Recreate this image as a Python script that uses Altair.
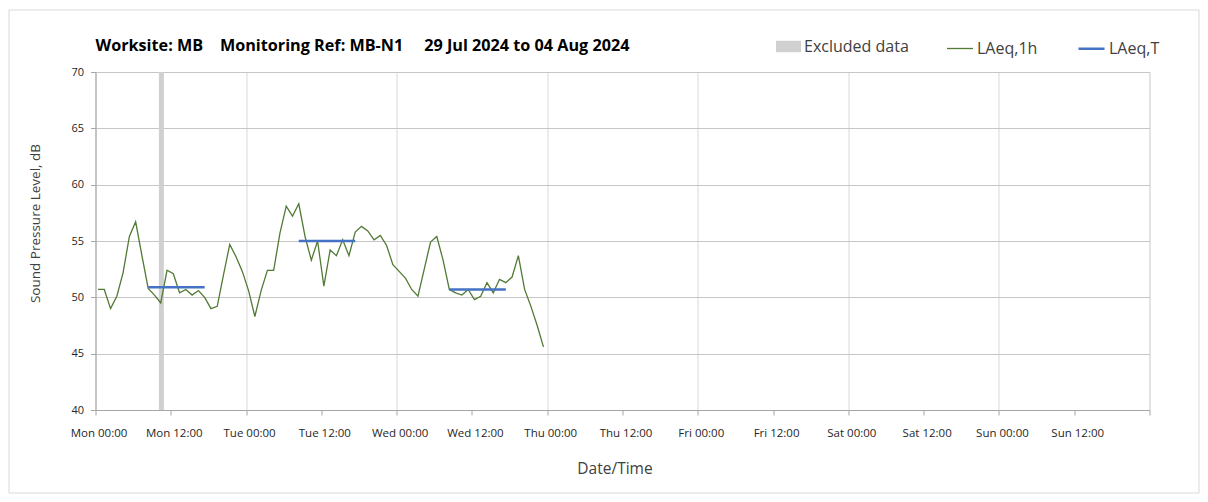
import altair as alt
import pandas as pd

FONT = "Open Sans"

# ---------------- data ----------------
first_reading = "2024-07-29T00:24:00"  # hourly LAeq,1h readings start here
laeq_1h = [
    50.7, 50.7, 49.0, 50.1, 52.2, 55.4, 56.7, 53.7, 50.8, 50.2, 49.5, 52.4,
    52.1, 50.4, 50.7, 50.2, 50.6, 50.0, 49.0, 49.2, 52.0, 54.7, 53.6, 52.3,
    50.6, 48.3, 50.6, 52.4, 52.4, 55.7, 58.1, 57.2, 58.3, 55.4, 53.3, 55.0,
    51.0, 54.2, 53.7, 55.1, 53.7, 55.8, 56.3, 55.9, 55.1, 55.5, 54.6, 52.9,
    52.3, 51.7, 50.7, 50.1, 52.5, 54.9, 55.4, 53.3, 50.7, 50.4, 50.2, 50.7,
    49.8, 50.1, 51.3, 50.4, 51.6, 51.3, 51.8, 53.7, 50.7, 49.2, 47.5, 45.6,
]

period_start = ["2024-07-29T08:24:00", "2024-07-30T08:24:00", "2024-07-31T08:24:00"]
period_end = ["2024-07-29T17:24:00", "2024-07-30T17:24:00", "2024-07-31T17:24:00"]
period_value = [50.9, 55.0, 50.7]

excluded_start = ["2024-07-29T10:06:00"]
excluded_end = ["2024-07-29T10:54:00"]

line_names = ["LAeq,1h", "LAeq,T"]
line_colors = ["#517a34", "#4472c4"]
line_widths = [1.3, 2.5]
excluded_name = "Excluded data"
excluded_color = "#d0d0d0"

y_ticks = [40, 45, 50, 55, 60, 65, 70]
title_text = ["Worksite: MB\u00a0\u00a0\u00a0\u00a0Monitoring Ref: MB-N1"
              "\u00a0\u00a0\u00a0\u00a0\u00a029 Jul 2024 to 04 Aug 2024"]

# ---------------- tables ----------------
times = pd.date_range(first_reading, periods=len(laeq_1h), freq="h").strftime("%Y-%m-%dT%H:%M:%S")
df_1h = pd.DataFrame({"time": list(times), "level": laeq_1h, "series": "LAeq,1h"})

rows = []
for i, (s, e, v) in enumerate(zip(period_start, period_end, period_value)):
    rows.append({"time": s, "level": v, "period": i, "series": "LAeq,T"})
    rows.append({"time": e, "level": v, "period": i, "series": "LAeq,T"})
df_t = pd.DataFrame(rows)

df_ex = pd.DataFrame({"start": excluded_start, "end": excluded_end, "series": excluded_name})
df_title = pd.DataFrame({"text": title_text})

W, H = 1054, 338
PAD = {"left": 87.5, "top": 64, "right": 50.5, "bottom": 84}

x_values = []
for d in range(7):
    for hh in (0, 12):
        day = 29 + d
        if day <= 31:
            x_values.append(alt.DateTime(year=2024, month=7, date=day, hours=hh))
        else:
            x_values.append(alt.DateTime(year=2024, month=8, date=day - 31, hours=hh))
x_values.append(alt.DateTime(year=2024, month=8, date=5, hours=0))

x_scale = alt.Scale(domain=[alt.DateTime(year=2024, month=7, date=29),
                            alt.DateTime(year=2024, month=8, date=5)])
y_scale = alt.Scale(domain=[40, 70], nice=False)

color_scale = alt.Scale(domain=line_names, range=line_colors)
width_scale = alt.Scale(domain=line_names, range=line_widths)
fill_scale = alt.Scale(domain=[excluded_name], range=[excluded_color])

x_axis = alt.Axis(
    values=x_values,
    labelExpr="datum.value >= time(datetime(2024, 7, 5)) ? '' : timeFormat(datum.value, '%a %H:%M')",
    title="Date/Time",
    grid=True,
    gridColor="#d9d9d9",
    gridOpacity={"condition": {"test": "hours(datum.value) === 0", "value": 1}, "value": 0},
    domainColor="#a6a6a6",
    tickColor="#a6a6a6",
    tickSize=5,
    labelFont=FONT,
    labelFontSize=11.5,
    labelColor="#262626",
    labelPadding=12,
    labelOffset=3,
    labelOverlap=False,
    labelFlush=False,
    titleFont=FONT,
    titleFontSize=15.5,
    titleFontWeight="normal",
    titleColor="#404040",
    titlePadding=23,
    titleX=519,
)

y_axis = alt.Axis(
    values=y_ticks,
    title="Sound Pressure Level, dB",
    grid=True,
    gridColor="#c6c6c6",
    domainColor="#a6a6a6",
    tickColor="#a6a6a6",
    tickSize=5,
    labelFont=FONT,
    labelFontSize=11,
    labelColor="#262626",
    labelPadding=7,
    titleFont=FONT,
    titleFontSize=13.5,
    titleFontWeight="normal",
    titleColor="#404040",
    titleX=-60,
    titleY=151,
    titleAlign="center",
    titleBaseline="middle",
)

line_legend = alt.Legend(
    title=None,
    orient="none",
    legendX=850.5,
    legendY=-38,
    direction="horizontal",
    symbolType="stroke",
    symbolSize=676,
    labelFont=FONT,
    labelFontSize=16,
    labelColor="#404040",
    labelOffset=3,
    columnPadding=35,
)

ex_legend = alt.Legend(
    title=None,
    orient="none",
    legendX=680.5,
    legendY=-38,
    direction="horizontal",
    symbolType="M-1,-0.46H1V0.46H-1Z",
    symbolSize=625,
    symbolStrokeWidth=0,
    labelFont=FONT,
    labelFontSize=16,
    labelColor="#404040",
    labelOffset=3,
)

excluded = alt.Chart(df_ex).mark_rect(opacity=1).encode(
    x=alt.X("start:T", scale=x_scale, axis=x_axis),
    x2="end:T",
    y=alt.value(0),
    y2=alt.value(H),
    fill=alt.Fill("series:N", scale=fill_scale, legend=ex_legend),
)

line_1h = alt.Chart(df_1h).mark_line().encode(
    x=alt.X("time:T", scale=x_scale, axis=x_axis),
    y=alt.Y("level:Q", scale=y_scale, axis=y_axis),
    color=alt.Color("series:N", scale=color_scale, legend=line_legend),
    strokeWidth=alt.StrokeWidth("series:N", scale=width_scale, legend=line_legend),
)

line_t = alt.Chart(df_t).mark_line().encode(
    x=alt.X("time:T", scale=x_scale, axis=x_axis),
    y=alt.Y("level:Q", scale=y_scale, axis=y_axis),
    detail="period:N",
    color=alt.Color("series:N", scale=color_scale, legend=line_legend),
    strokeWidth=alt.StrokeWidth("series:N", scale=width_scale, legend=line_legend),
)

frame = alt.Chart(pd.DataFrame({"k": [0]})).mark_rect(
    fill=None, stroke="#d9d9d9", strokeWidth=1
).encode(
    x=alt.value(-PAD["left"] + 1),
    x2=alt.value(W + PAD["right"] - 1),
    y=alt.value(-62),
    y2=alt.value(H + PAD["bottom"] - 1),
)

title = alt.Chart(df_title).mark_text(
    align="left", baseline="alphabetic", font=FONT, fontSize=16.2,
    fontWeight="bold", color="#000000"
).encode(
    x=alt.value(0),
    y=alt.value(-21),
    text="text:N",
)

chart = alt.layer(frame, excluded, line_1h, line_t, title).properties(
    width=W,
    height=H,
    autosize="none",
    padding=PAD,
).configure_view(stroke=None).configure(background="white")

chart.save("out.html", embed_options={"renderer": "svg", "actions": False})
